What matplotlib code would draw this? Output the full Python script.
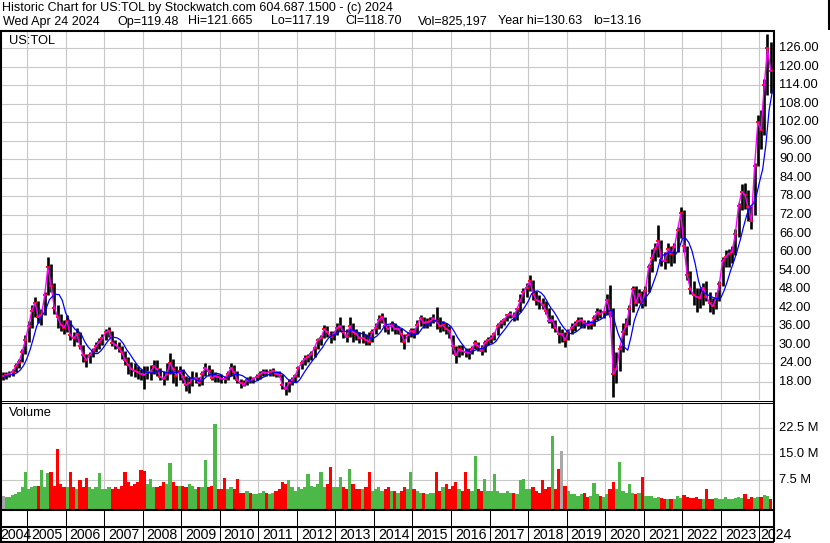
import numpy as np
import pandas as pd
import matplotlib
matplotlib.use("Agg")
import matplotlib.pyplot as plt

plt.rcParams['font.family'] = ['Liberation Sans', 'DejaVu Sans']

# ---------------- data (monthly, May 2004 .. Apr 2024) ----------------
close = [
    19.8, 20.2, 20.5, 21.2, 23.0, 24.5, 27.5, 31.5,
    36.0, 41.0, 43.5, 39.0, 39.5, 46.0, 55.0, 49.0, 42.0, 39.0, 36.5, 35.5,
    37.5, 33.0, 32.0, 33.5, 29.5, 26.5, 25.0, 26.5, 28.0, 29.5, 31.0, 32.0,
    34.0, 34.5, 30.5, 30.0, 29.0, 27.5, 25.0, 23.5, 22.0, 21.5, 21.0, 20.5,
    20.3, 21.0, 21.3, 23.0, 22.0, 19.5, 19.0, 20.5, 24.0, 22.0, 20.0, 21.5,
    19.5, 17.0, 17.5, 19.0, 19.3, 17.5, 20.5, 22.5, 21.5, 19.2, 19.8, 19.5,
    19.0, 18.8, 20.5, 22.5, 21.0, 18.5, 17.5, 17.0, 18.5, 18.3, 19.0, 19.5,
    20.5, 21.0, 20.8, 21.2, 21.5, 20.5, 20.3, 17.0, 15.5, 17.5, 18.5, 20.0,
    22.5, 24.0, 25.5, 26.0, 27.0, 29.0, 31.5, 32.0, 35.0, 34.0, 32.5, 33.5,
    35.5, 36.0, 34.0, 32.5, 36.0, 34.0, 33.5, 32.0, 32.3, 31.5, 31.0, 34.0,
    35.5, 38.0, 39.0, 36.0, 35.0, 36.5, 35.0, 35.2, 33.5, 31.0, 33.0, 34.5,
    34.0, 36.5, 38.5, 37.0, 37.3, 37.5, 38.5, 37.5, 36.0, 36.3, 35.0, 34.5,
    29.5, 26.5, 28.5, 28.0, 27.5, 27.3, 28.5, 30.5, 29.5, 28.0, 30.5, 31.5,
    32.0, 33.5, 36.0, 37.0, 38.0, 39.5, 40.0, 39.0, 41.5, 44.0, 47.0, 48.5,
    50.5, 46.5, 44.5, 44.0, 43.0, 41.0, 37.5, 38.0, 35.5, 33.5, 33.5, 31.5,
    34.0, 35.5, 36.5, 37.5, 38.0, 37.0, 36.5, 36.8, 38.5, 40.5, 40.0, 40.5,
    44.5, 40.5, 20.5, 22.0, 28.5, 34.0, 36.0, 41.5, 48.0, 43.5, 46.5, 43.5,
    47.5, 55.0, 58.0, 61.0, 63.5, 57.5, 57.0, 61.0, 59.5, 61.5, 67.0, 72.5,
    62.0, 52.5, 48.0, 46.0, 45.5, 45.0, 48.5, 45.5, 43.5, 42.5, 45.0, 49.5,
    57.0, 58.5, 59.5, 60.0, 66.0, 75.0, 79.5, 78.5, 74.5, 70.0, 88.0, 102.0,
    99.5, 114.0, 126.0, 118.7,
]
high = [
    21.0, 21.0, 21.5, 22.0, 24.0, 25.5, 28.5, 33.0,
    37.5, 43.0, 45.5, 44.0, 41.5, 47.0, 58.5, 56.0, 50.0, 43.0, 40.0, 38.0,
    39.5, 38.0, 34.0, 35.5, 34.0, 30.0, 27.0, 27.5, 29.0, 31.0, 32.0, 33.5,
    35.0, 35.7, 34.5, 31.5, 31.0, 29.5, 28.0, 26.0, 24.5, 24.0, 23.0, 22.0,
    23.0, 23.0, 23.5, 25.0, 25.0, 22.5, 21.5, 24.0, 27.3, 25.5, 23.0, 23.0,
    22.0, 20.0, 19.5, 21.5, 21.0, 19.5, 21.5, 24.0, 23.5, 22.0, 21.0, 20.5,
    20.5, 20.0, 21.5, 24.0, 23.5, 21.5, 19.0, 18.5, 19.5, 20.0, 19.5, 20.5,
    21.5, 22.0, 22.0, 22.0, 22.5, 21.5, 21.5, 20.5, 18.0, 19.0, 19.5, 20.5,
    23.0, 25.0, 26.5, 27.0, 28.0, 29.5, 32.0, 33.0, 36.5, 36.0, 34.5, 34.5,
    37.0, 39.0, 36.5, 35.0, 39.0, 37.0, 35.0, 34.0, 34.5, 33.5, 34.0, 35.0,
    37.0, 39.5, 40.3, 39.0, 36.5, 37.5, 37.0, 36.0, 35.5, 33.5, 34.0, 35.5,
    35.5, 38.0, 39.5, 39.0, 38.5, 39.0, 40.0, 42.2, 39.0, 37.5, 37.0, 36.0,
    33.0, 29.5, 30.0, 30.0, 29.0, 29.0, 29.5, 31.5, 31.0, 30.0, 31.5, 32.5,
    33.0, 34.0, 37.0, 38.0, 38.5, 40.0, 41.0, 40.5, 42.0, 46.5, 48.5, 50.0,
    52.6, 51.0, 47.5, 46.0, 45.0, 44.0, 42.0, 39.5, 38.0, 36.0, 35.0, 34.0,
    35.0, 37.0, 37.5, 39.0, 39.0, 38.0, 38.0, 37.5, 39.5, 42.0, 41.5, 41.0,
    46.5, 49.3, 42.0, 27.5, 30.0, 37.0, 38.5, 43.0, 49.0, 49.0, 48.0, 47.5,
    49.0, 56.0, 61.0, 63.0, 68.8, 64.0, 60.0, 63.0, 62.0, 63.0, 68.0, 74.7,
    73.6, 62.0, 54.0, 50.5, 48.5, 48.5, 50.0, 50.5, 47.0, 45.0, 47.0, 50.5,
    58.5, 60.5, 61.0, 62.0, 67.5, 76.0, 82.0, 82.5, 80.0, 75.0, 89.0, 104.5,
    106.0, 116.0, 130.6, 128.0,
]
low = [
    18.5, 19.0, 19.5, 20.0, 21.0, 22.5, 24.5, 27.0,
    31.0, 35.5, 39.0, 37.0, 36.5, 39.5, 46.0, 47.0, 40.0, 35.5, 34.5, 33.5,
    34.0, 31.5, 29.5, 31.0, 28.5, 24.5, 22.8, 24.0, 26.0, 27.5, 28.5, 30.0,
    31.5, 32.5, 29.5, 28.5, 27.5, 25.5, 23.5, 20.5, 20.0, 19.5, 19.0, 18.5,
    15.5, 19.0, 18.5, 20.5, 20.0, 18.5, 17.0, 18.5, 20.5, 17.5, 16.5, 18.5,
    17.5, 15.0, 14.3, 16.5, 17.5, 16.5, 17.0, 20.0, 20.0, 18.5, 18.0, 18.0,
    17.5, 17.5, 18.5, 20.0, 19.0, 17.5, 16.0, 16.5, 17.0, 17.5, 17.5, 18.5,
    19.0, 20.0, 20.0, 20.0, 20.0, 19.5, 19.5, 15.5, 13.7, 14.5, 17.0, 18.0,
    19.5, 22.0, 23.5, 24.5, 25.0, 26.0, 28.5, 30.0, 32.0, 32.5, 30.5, 31.5,
    33.0, 34.5, 32.0, 31.0, 32.5, 31.0, 31.5, 30.5, 30.5, 30.0, 30.0, 31.0,
    33.5, 35.0, 37.0, 34.0, 33.5, 34.5, 33.5, 33.5, 31.0, 28.5, 31.0, 32.5,
    32.0, 33.5, 36.0, 35.5, 35.5, 36.0, 37.0, 35.0, 34.0, 34.5, 33.5, 32.0,
    27.0, 24.0, 26.0, 26.5, 26.0, 25.5, 27.0, 28.5, 28.0, 26.5, 27.5, 30.0,
    30.5, 31.5, 33.0, 35.5, 36.5, 37.5, 38.5, 37.5, 38.0, 40.5, 43.5, 45.5,
    47.5, 44.5, 43.0, 41.5, 41.5, 40.0, 37.0, 35.5, 34.0, 30.5, 31.0, 29.3,
    31.5, 33.5, 34.5, 36.0, 35.5, 35.5, 35.0, 35.0, 36.0, 38.0, 38.5, 38.5,
    39.5, 39.0, 13.2, 17.5, 21.5, 27.5, 33.0, 36.5, 40.5, 42.5, 43.5, 42.0,
    42.5, 47.0, 53.5, 57.0, 58.5, 55.5, 54.5, 56.5, 55.5, 56.5, 60.0, 64.5,
    60.0, 51.0, 46.5, 43.0, 40.5, 42.0, 43.0, 44.0, 40.5, 40.0, 41.5, 44.0,
    49.0, 55.0, 55.0, 56.5, 59.0, 65.0, 73.5, 74.0, 70.0, 67.5, 72.0, 88.0,
    93.5, 98.0, 111.0, 111.5,
]
volume_m = [
    3.0, 2.6, 2.8, 3.2, 3.6, 4.2, 5.5, 9.8,
    5.0, 5.5, 6.0, 6.0, 10.5, 5.5, 9.5, 9.8, 6.0, 16.5, 6.5, 5.5,
    5.5, 9.8, 5.5, 5.0, 7.6, 5.5, 8.3, 5.5, 5.0, 5.5, 9.6, 5.0,
    5.0, 5.5, 5.0, 5.5, 5.0, 6.0, 9.9, 7.0, 6.0, 6.5, 7.0, 10.5,
    10.2, 6.5, 7.9, 5.5, 5.5, 6.0, 7.0, 6.5, 12.4, 7.0, 6.0, 6.0,
    6.0, 5.5, 6.5, 6.0, 5.0, 5.5, 5.5, 13.3, 5.5, 6.0, 23.5, 5.0,
    5.0, 8.3, 5.0, 5.5, 5.0, 8.0, 4.0, 4.0, 4.5, 4.0, 3.5, 3.5,
    4.0, 4.5, 4.0, 3.5, 4.0, 4.5, 5.0, 7.0, 6.5, 7.5, 5.5, 4.5,
    5.5, 5.0, 5.5, 9.3, 6.0, 5.5, 6.5, 9.9, 5.5, 6.5, 11.3, 5.5,
    5.5, 8.5, 5.5, 5.0, 10.7, 6.5, 5.0, 5.0, 5.0, 5.5, 10.0, 4.5,
    5.0, 5.5, 4.5, 5.0, 5.5, 4.5, 4.5, 4.0, 4.5, 5.5, 5.0, 9.8,
    5.0, 4.5, 4.0, 4.0, 3.5, 4.0, 4.0, 9.8, 4.5, 5.5, 6.5, 5.0,
    6.0, 7.0, 5.0, 4.5, 9.9, 5.0, 4.5, 14.4, 5.0, 4.5, 8.0, 4.5,
    4.5, 9.2, 4.5, 4.0, 4.0, 4.5, 4.0, 4.0, 3.5, 7.6, 7.8, 5.0,
    5.0, 5.5, 4.5, 4.0, 7.5, 5.0, 5.5, 20.2, 5.0, 10.6, 15.9, 6.0,
    4.5, 3.5, 3.5, 3.0, 3.5, 4.0, 2.8, 3.0, 6.7, 3.5, 3.0, 2.8,
    3.5, 5.0, 7.0, 5.0, 12.6, 4.5, 4.0, 6.5, 4.0, 3.5, 4.0, 8.4,
    3.0, 3.0, 3.0, 2.5, 2.8, 2.5, 2.2, 2.2, 2.2, 2.3, 3.0, 2.5,
    3.4, 2.6, 2.4, 2.4, 2.6, 2.2, 2.2, 5.0, 2.2, 2.2, 2.4, 2.2,
    2.2, 2.6, 2.2, 2.2, 2.4, 2.6, 2.4, 3.7, 2.2, 2.8, 2.4, 2.6,
    2.6, 3.3, 3.0, 2.2,
]
price_ticks = [18, 24, 30, 36, 42, 48, 54, 60, 66, 72, 78, 84, 90, 96, 102, 108, 114, 120, 126]
volume_ticks = [7.5, 15.0, 22.5]
year_labels = list(range(2004, 2025))

header1 = "Historic Chart for US:TOL by Stockwatch.com 604.687.1500 - (c) 2024"
header2_fields = ["Wed Apr 24 2024", "Op=119.48", "Hi=121.665", "Lo=117.19",
                  "Cl=118.70", "Vol=825,197", "Year hi=130.63", "lo=13.16"]

# ---------------- derived ----------------
close_a = np.array(close)
high_a = np.array(high)
low_a = np.array(low)
vol_a = np.array(volume_m)
months = pd.date_range("2004-05-01", periods=len(close_a), freq="MS")
xm = np.asarray(months.year + (months.month - 0.5) / 12.0)
x_end = xm + 0.5 / 12.0          # month-end positions
chg = np.diff(np.concatenate([[close_a[0]], close_a]))
vcol = np.where(chg > 0, '#4CB848', np.where(chg < 0, '#FF0000', '#A8A8A8'))
ma_long = pd.Series(close_a).rolling(5, min_periods=1).mean().values

# ---------------- figure ----------------
W, H = 830, 543
fig = plt.figure(figsize=(W / 100, H / 100), dpi=100)
fig.patch.set_facecolor('white')

def ax_px(l, t, r, b):
    a = fig.add_axes([l / W, 1 - b / H, (r - l) / W, (b - t) / H])
    for s in a.spines.values():
        s.set_visible(False)
    a.set_xticks([]); a.set_yticks([])
    return a

XL = (2004.3515, 2024.3516)
GRID = '#C8C8C8'

# price panel
ax = ax_px(2, 31, 773, 400)
ax.set_xlim(*XL)
ax.set_ylim(12.07, 131.6)
for v in price_ticks:
    ax.axhline(v, color=GRID, lw=0.8, zorder=0)
for yr in year_labels[1:]:
    ax.axvline(yr, color=GRID, lw=0.8, zorder=0)
ax.vlines(xm, low_a, high_a, color='black', lw=1.9, zorder=2)
ax.plot(xm, close_a, ls='none', marker='_', ms=3.5, mew=1.3, color='red', zorder=3)
ax.plot(xm, close_a, color='#FF00FF', lw=1.0, zorder=4)
ax.plot(x_end, ma_long, color='#0000FF', lw=0.9, zorder=5)

# volume panel
av = ax_px(2, 403, 773, 509)
av.set_xlim(*XL)
vb = -0.68
av.set_ylim(vb, 29.55)
for v in volume_ticks:
    av.axhline(v, color=GRID, lw=0.8, zorder=0)
for yr in year_labels[1:]:
    av.axvline(yr, color=GRID, lw=0.8, zorder=0)
av.bar(xm, vol_a - vb, bottom=vb, width=1 / 12.0, color=vcol, linewidth=0, zorder=2)

# overlay in pixel coordinates
ov = fig.add_axes([0, 0, 1, 1], zorder=10)
ov.set_xlim(0, W); ov.set_ylim(H, 0); ov.axis('off'); ov.patch.set_alpha(0)

def hline(y, x0, x1, lw):
    ov.plot([x0, x1], [y, y], color='black', lw=lw, solid_capstyle='butt')

def vline(x, y0, y1, lw):
    ov.plot([x, x], [y0, y1], color='black', lw=lw, solid_capstyle='butt')

vline(1, 30, 542, 1.5)
vline(773.5, 30, 542, 1.5)
vline(829, 0, 30, 1.5)
hline(30.5, 0, 774.5, 1.5)
hline(400.5, 0, 774, 0.75)
hline(402.8, 0, 774, 0.75)
hline(509.5, 0, 774, 1.5)
hline(527, 0, 774, 1.5)
hline(541.8, 0, 774, 1.5)

# year separators and labels
fs_tick = 9.3
for yr in year_labels:
    px = ax.transData.transform((yr, 20))[0]
    if yr == 2004:
        ov.text(0.5, 535, str(yr), fontsize=10.2, va='center', ha='left')
        continue
    vline(px, 510, 541.5, 0.75)
    off = 0.5 if yr == 2024 else 4
    ov.text(px + off, 535, str(yr), fontsize=10.2, va='center', ha='left')

# right axis labels
for v in price_ticks:
    py = H - ax.transData.transform((2010, v))[1]
    ov.text(779, py, f"{v:.2f}", fontsize=fs_tick, va='center', ha='left')
for v in volume_ticks:
    py = H - av.transData.transform((2010, v))[1]
    ov.text(779, py, f"{v:.1f} M", fontsize=fs_tick, va='center', ha='left')

ov.text(9, 41.5, "US:TOL", fontsize=fs_tick, va='center', ha='left')
ov.text(9, 413, "Volume", fontsize=fs_tick, va='center', ha='left')
ov.text(2, 8, header1, fontsize=9.0, va='center', ha='left')
header2_x = [3, 117, 188, 271, 345, 418, 498, 593]
for hx, t in zip(header2_x, header2_fields):
    ov.text(hx, 21.5, t, fontsize=9.0, va='center', ha='left')

fig.savefig("out.png", dpi=100)
